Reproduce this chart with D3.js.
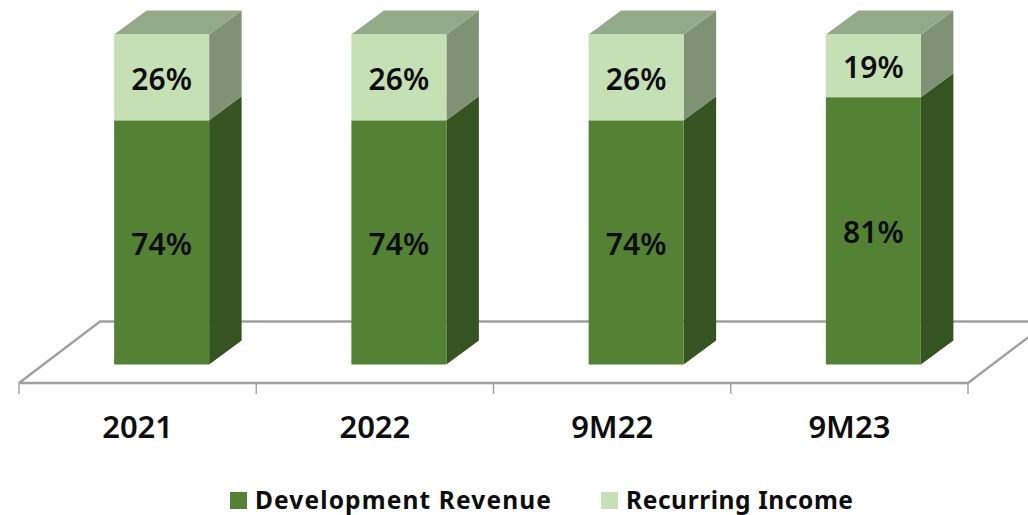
<!DOCTYPE html>
<html>
<head>
<meta charset="utf-8">
<script src="https://cdn.jsdelivr.net/npm/d3@7/dist/d3.min.js"></script>
<style>
html,body{margin:0;padding:0;background:#fff;overflow:hidden}
svg{display:block}
text{font-family:"Noto Sans",sans-serif;fill:#0d0d0d}
</style>
</head>
<body>
<svg id="chart" width="1028" height="515"></svg>
<script>
const categories = ["2021", "2022", "9M22", "9M23"];
const seriesNames = ["Development Revenue", "Recurring Income"];
const developmentRevenue = [74, 74, 74, 81];
const recurringIncome = [26, 26, 26, 19];

const seriesColors = [
  {front:"#548235", side:"#365422", top:"#3f6128"},
  {front:"#c5e0b4", side:"#7f9374", top:"#93aa88"}
];

const svg = d3.select("#chart");
const x = d3.scaleBand().domain(categories).range([19, 968]);
const y = d3.scaleLinear().domain([0, 100]).range([364.5, 34.5]);

const barW = 95, dx = 32.5, dy = -24, barShift = 24;
const floorY = 383, floorDx = 81, floorDy = -61.5;

const poly = pts => pts.map(p => p.join(",")).join(" ");

// floor
const floor = svg.append("g").attr("fill","none").attr("stroke","#a0a0a0").attr("stroke-width",2.4);
floor.append("polyline").attr("points", poly([
  [x.range()[0], floorY],
  [x.range()[0] + floorDx, floorY + floorDy],
  [x.range()[1] + floorDx, floorY + floorDy],
  [x.range()[1], floorY],
  [x.range()[0], floorY]
]));
// ticks
const tickPos = categories.map(c => x(c)).concat([x.range()[1]]);
svg.append("g").selectAll("line").data(tickPos).join("line")
  .attr("x1", d => d).attr("x2", d => d)
  .attr("y1", floorY).attr("y2", floorY + 11)
  .attr("stroke", "#a0a0a0").attr("stroke-width", 1.4);

// bars
const series = [developmentRevenue, recurringIncome];
const stacked = categories.map((c, i) => {
  let acc = 0;
  return series.map((s, k) => {
    const d = {cat:c, k, v:s[i], y0:acc, y1:acc + s[i]};
    acc += s[i];
    return d;
  });
});

const barG = svg.append("g").selectAll("g").data(stacked).join("g");
barG.each(function(segs) {
  const g = d3.select(this);
  const bl = x(segs[0].cat) + x.bandwidth()/2 + barShift - barW/2;
  const br = bl + barW;
  segs.forEach(d => {
    const yb = y(d.y0), yt = y(d.y1), col = seriesColors[d.k];
    g.append("polygon").attr("fill", col.side)
      .attr("points", poly([[br,yb],[br+dx,yb+dy],[br+dx,yt+dy],[br,yt]]));
    if (d.y1 === 100) {
      g.append("polygon").attr("fill", col.top)
        .attr("points", poly([[bl,yt],[bl+dx,yt+dy],[br+dx,yt+dy],[br,yt]]));
    }
    g.append("rect").attr("x", bl).attr("y", yt).attr("width", barW).attr("height", yb-yt).attr("fill", col.front);
    g.append("text").attr("x", (bl+br)/2).attr("y", (yb+yt)/2 + 1.5)
      .attr("dy","0.36em").attr("text-anchor","middle")
      .attr("font-size",30).attr("font-weight",600)
      .text(d.v + "%");
  });
});

// category labels
svg.append("g").selectAll("text").data(categories).join("text")
  .attr("x", d => x(d) + x.bandwidth()/2)
  .attr("y", 438)
  .attr("text-anchor","middle").attr("font-size",31).attr("font-weight",600)
  .text(d => d);

// legend
const legendX = [230, 601];
const legendLen = [296, 227];
const legendG = svg.append("g").selectAll("g").data(seriesNames).join("g");
legendG.append("rect").attr("x",(d,i)=>legendX[i]).attr("y",492).attr("width",17).attr("height",17)
  .attr("fill",(d,i)=>seriesColors[i].front);
legendG.append("text").attr("x",(d,i)=>legendX[i]+25).attr("y",509)
  .attr("font-size",24.5).attr("font-weight",700)
  .attr("textLength",(d,i)=>legendLen[i]).attr("lengthAdjust","spacing")
  .text(d=>d);
</script>
</body>
</html>
